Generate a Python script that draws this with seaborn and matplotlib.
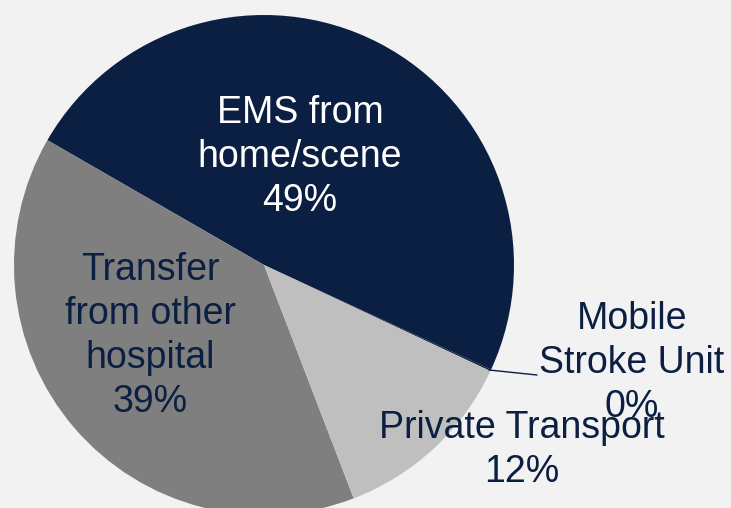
import seaborn as sns
import matplotlib.pyplot as plt

# arrival mode shares (percent)
modes = ['Mobile\nStroke Unit', 'EMS from\nhome/scene', 'Transfer\nfrom other\nhospital', 'Private Transport']
shares = [0.1, 48.6, 39.2, 12.2]
pct_labels = ['0%', '49%', '39%', '12%']

navy = '#0B1F42'
colors = [navy, navy, '#7F7F7F', '#BFBFBF']

sns.set_theme(style='white')
plt.rcParams['font.family'] = ['Liberation Sans', 'DejaVu Sans']

fig = plt.figure(figsize=(7.31, 5.08), dpi=100, facecolor='#F2F2F2')
ax = fig.add_axes([0, 0, 1, 1])
ax.set_facecolor('#F2F2F2')

# pie in pixel coordinates so it can run off the bottom edge like the original
wedges, _ = ax.pie(shares, colors=colors, startangle=-25.1, counterclock=True,
                   center=(264, 243), radius=250, frame=True,
                   wedgeprops=dict(linewidth=0))
ax.set_xlim(0, 731)
ax.set_ylim(0, 508)
ax.set_aspect('equal')
ax.axis('off')

fs = 27
txt = dict(ha='center', va='center', fontsize=fs, linespacing=1.28)
ax.text(300, 508 - 157, modes[1] + '\n' + pct_labels[1], color='white', **txt)
ax.text(150, 508 - 336, modes[2] + '\n' + pct_labels[2], color=navy, **txt)
ax.text(632, 508 - 363, modes[0] + '\n' + pct_labels[0], color=navy, **txt)
ax.text(522, 508 - 450, modes[3] + '\n' + pct_labels[3], color=navy, **txt)

# leader line for the tiny slice
ax.plot([489, 537], [508 - 370, 508 - 375], color=navy, lw=1)

fig.savefig('out.png', dpi=100, facecolor=fig.get_facecolor())
